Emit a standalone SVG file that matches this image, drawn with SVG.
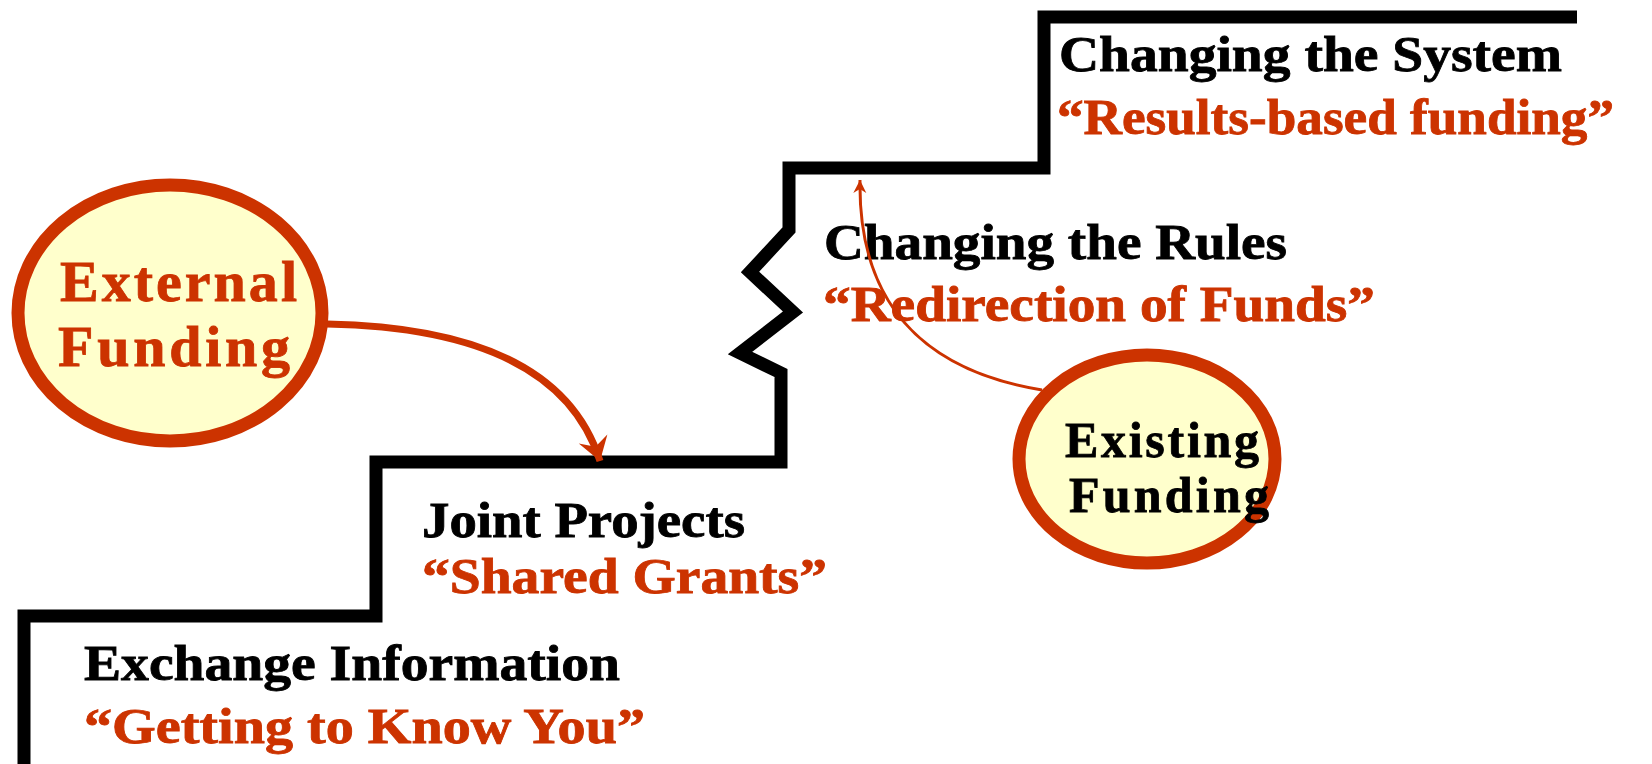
<svg xmlns="http://www.w3.org/2000/svg" width="1652" height="764" viewBox="0 0 1652 764">
  <style>
    .stair { fill: none; stroke: #000; stroke-width: 13; stroke-linejoin: miter; stroke-miterlimit: 10; }
    .lbl { font-family: "Liberation Serif", "Times New Roman", serif; font-weight: bold; font-size: 50px; stroke-width: 0.8; }
    .blk { fill: #000; stroke: #000; }
    .org { fill: #CC3300; stroke: #CC3300; }
    .bubble { fill: #FFFFCC; stroke: #CC3300; stroke-width: 13; }
    .big { font-size: 58px; }
    .conn { fill: none; stroke: #CC3300; }
  </style>
  <defs>
    <marker id="headBig" markerUnits="userSpaceOnUse" markerWidth="32" markerHeight="32" viewBox="-24 -16 26 32" refX="0" refY="0" orient="auto">
      <path d="M0,0 L-23,-15 L-15,0 L-23,15 Z" fill="#CC3300"/>
    </marker>
    <marker id="headSmall" markerUnits="userSpaceOnUse" markerWidth="16" markerHeight="16" viewBox="-14 -8 16 16" refX="0" refY="0" orient="auto">
      <path d="M0,0 L-13,-6.5 L-9,0 L-13,6.5 Z" fill="#CC3300"/>
    </marker>
  </defs>

  <rect width="1652" height="764" fill="#fff"/>

  <!-- staircase outline with the broken riser -->
  <g id="staircase">
    <path class="stair" d="M24,764 V616 H376 V462 H781 V373 L740,353 L793,312 L750,272 L789,230 V168 H1044 V17 H1577"/>
  </g>

  <g id="step-exchange">
    <text class="lbl blk" x="84" y="680" textLength="536" lengthAdjust="spacingAndGlyphs">Exchange Information</text>
    <text class="lbl org" x="84" y="743" textLength="561" lengthAdjust="spacingAndGlyphs">“Getting to Know You”</text>
  </g>

  <g id="step-joint">
    <text class="lbl blk" x="422" y="537" textLength="323" lengthAdjust="spacingAndGlyphs">Joint Projects</text>
    <text class="lbl org" x="422" y="593" textLength="405" lengthAdjust="spacingAndGlyphs">“Shared Grants”</text>
  </g>

  <g id="step-rules">
    <text class="lbl blk" x="824" y="259" textLength="463" lengthAdjust="spacingAndGlyphs">Changing the Rules</text>
    <text class="lbl org" x="823" y="321" textLength="552" lengthAdjust="spacingAndGlyphs">“Redirection of Funds”</text>
  </g>

  <g id="step-system">
    <text class="lbl blk" x="1059" y="71" textLength="503" lengthAdjust="spacingAndGlyphs">Changing the System</text>
    <text class="lbl org" x="1057" y="134" textLength="557" lengthAdjust="spacingAndGlyphs">“Results-based funding”</text>
  </g>

  <!-- funding arrows -->
  <g id="connectors">
    <path class="conn" stroke-width="7" d="M327,324 C435,326 565,350 600,461" marker-end="url(#headBig)"/>
    <path class="conn" stroke-width="3" d="M1042,390 C920,370 858,300 860,180" marker-end="url(#headSmall)"/>
  </g>

  <g id="external-funding">
    <ellipse class="bubble" cx="170" cy="313" rx="152" ry="128"/>
    <text class="lbl org big" x="60" y="301" textLength="237" lengthAdjust="spacing">External</text>
    <text class="lbl org big" x="58" y="366" textLength="232" lengthAdjust="spacing">Funding</text>
  </g>

  <g id="existing-funding">
    <ellipse class="bubble" cx="1147" cy="459" rx="128" ry="104"/>
    <text class="lbl blk" x="1065" y="457" textLength="194" lengthAdjust="spacing">Existing</text>
    <text class="lbl blk" x="1069" y="512" textLength="200" lengthAdjust="spacing">Funding</text>
  </g>
</svg>
